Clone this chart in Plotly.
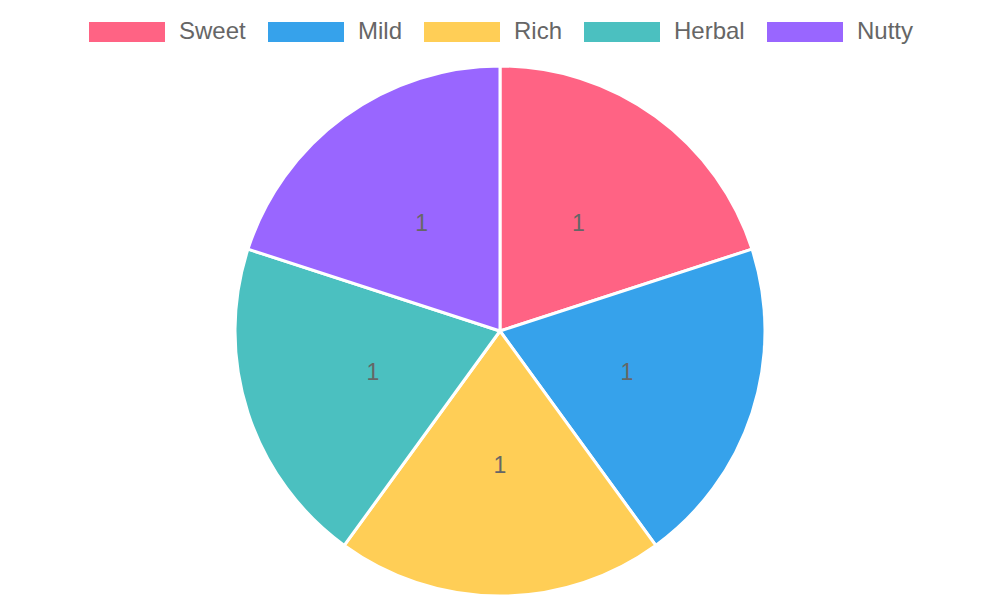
import plotly.graph_objects as go

categories = ["Sweet", "Mild", "Rich", "Herbal", "Nutty"]
values = [1, 1, 1, 1, 1]
colors = ["rgb(255,99,132)", "rgb(54,162,235)", "rgb(255,206,86)",
          "rgb(75,192,192)", "rgb(153,102,255)"]

# page body has an 8px margin, so the figure is sized to fit the window
W, H = 992, 592
OFF = 8  # body margin offset

FONT = "Liberation Sans, Arial, sans-serif"

# pie occupies reference pixels y 66..596, centred at x = 500
pie_top, pie_bot, pie_cx = 66 - OFF, 596 - OFF, 500 - OFF
R = (pie_bot - pie_top) / 2
pie_cy = (pie_top + pie_bot) / 2

def domain(scale):
    r = R * scale
    return dict(x=[(pie_cx - r) / W, (pie_cx + r) / W],
                y=[1 - (pie_cy + r) / H, 1 - (pie_cy - r) / H])

fig = go.Figure()
fig.add_trace(go.Pie(
    labels=categories,
    values=values,
    marker=dict(colors=colors, line=dict(color="white", width=3)),
    sort=False,
    direction="clockwise",
    rotation=0,
    textinfo="none",
    hoverinfo="label+value",
    showlegend=False,
    domain=domain(1.0),
))
# value labels: a transparent companion pie so the labels sit at half radius
fig.add_trace(go.Pie(
    labels=categories,
    values=values,
    marker=dict(colors=["rgba(0,0,0,0)"] * len(values), line=dict(width=0)),
    sort=False,
    direction="clockwise",
    rotation=0,
    textinfo="value",
    textposition="inside",
    insidetextorientation="horizontal",
    textfont=dict(family=FONT, size=23, color="#666666"),
    hoverinfo="skip",
    showlegend=False,
    domain=domain(0.80),
))

# Chart.js-style legend: wide colour boxes followed by labels
legend_box_x = [89, 268, 424, 584, 767]
box_w, box_h = 76, 20
box_top = 22 - OFF
shapes = []
annotations = []
for cat, col, bx in zip(categories, colors, legend_box_x):
    x0 = bx - OFF
    shapes.append(dict(
        type="rect", xref="paper", yref="paper",
        x0=x0 / W, x1=(x0 + box_w) / W,
        y0=1 - (box_top + box_h) / H, y1=1 - box_top / H,
        fillcolor=col, line=dict(width=0),
    ))
    annotations.append(dict(
        text=cat, xref="paper", yref="paper",
        x=(x0 + box_w + 12) / W, y=1 - (box_top + box_h / 2 - 1) / H,
        xanchor="left", yanchor="middle", showarrow=False,
        font=dict(family=FONT, size=24, color="#666666"),
    ))

fig.update_layout(
    width=W, height=H,
    margin=dict(l=0, r=0, t=0, b=0),
    paper_bgcolor="white",
    plot_bgcolor="white",
    shapes=shapes,
    annotations=annotations,
)

fig.write_html("out.html")
